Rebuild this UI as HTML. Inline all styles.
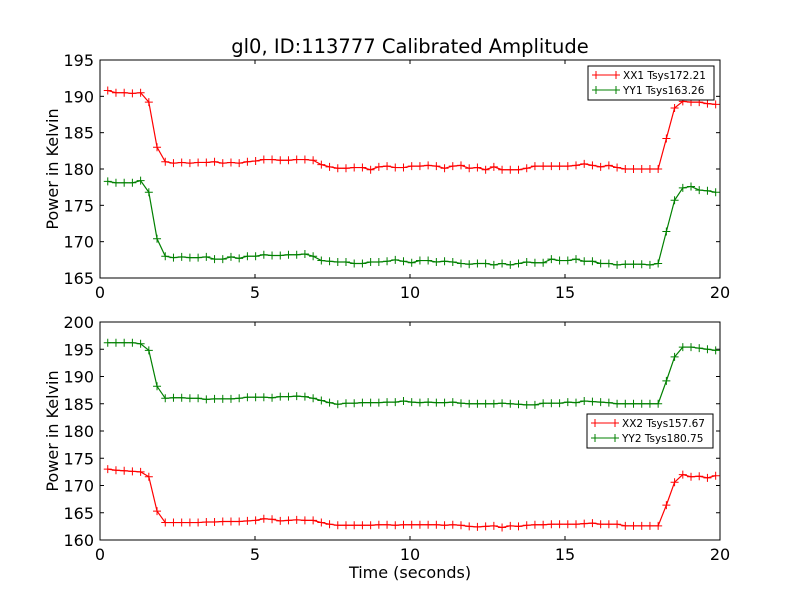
<!DOCTYPE html>
<html><head><meta charset="utf-8"><style>
body{margin:0;background:#fff}
svg{font-family:"DejaVu Sans","Liberation Sans",sans-serif}
</style></head><body>
<svg id="c" width="800" height="600" viewBox="0 0 800 600"></svg>
<script>
const xx1=[190.8,190.5,190.5,190.4,190.5,189.2,183.0,181.0,180.8,180.9,
180.8,180.9,180.9,181.0,180.8,180.9,180.8,181.0,181.1,181.3,
181.3,181.2,181.2,181.3,181.3,181.2,180.6,180.3,180.1,180.1,
180.2,180.2,179.9,180.3,180.4,180.2,180.2,180.4,180.4,180.5,
180.4,180.1,180.4,180.5,180.1,180.2,179.9,180.3,179.9,179.9,
179.9,180.1,180.4,180.4,180.4,180.4,180.4,180.5,180.7,180.5,
180.3,180.5,180.2,180.0,180.0,180.0,180.0,180.0,184.2,188.4,
189.3,189.2,189.2,189.0,188.9];
const yy1=[178.3,178.1,178.1,178.1,178.4,176.8,170.4,168.0,167.8,167.9,
167.8,167.8,167.9,167.6,167.6,167.9,167.7,168.0,168.0,168.2,
168.1,168.1,168.2,168.2,168.3,168.0,167.4,167.3,167.2,167.2,
167.0,167.0,167.2,167.2,167.3,167.5,167.3,167.1,167.4,167.4,
167.2,167.3,167.2,167.0,166.9,167.0,167.0,166.8,167.0,166.8,
167.0,167.2,167.1,167.1,167.6,167.4,167.4,167.6,167.3,167.3,
167.0,167.0,166.8,166.9,166.9,166.9,166.8,167.0,171.4,175.7,
177.4,177.6,177.1,177.0,176.8];
const xx2=[173.0,172.8,172.7,172.6,172.5,171.6,165.3,163.2,163.2,163.2,
163.2,163.2,163.3,163.3,163.4,163.4,163.4,163.5,163.6,163.9,
163.8,163.5,163.6,163.7,163.6,163.6,163.2,162.9,162.7,162.7,
162.7,162.7,162.7,162.8,162.8,162.7,162.8,162.8,162.8,162.8,
162.8,162.7,162.8,162.7,162.5,162.4,162.5,162.6,162.3,162.6,
162.5,162.7,162.8,162.8,162.9,162.9,162.9,162.9,163.0,163.1,
162.9,162.9,162.9,162.6,162.6,162.6,162.6,162.6,166.4,170.6,
172.0,171.6,171.7,171.4,171.8];
const yy2=[196.2,196.2,196.2,196.2,196.0,194.8,188.2,186.0,186.1,186.1,
186.0,186.0,185.8,185.9,185.9,185.9,186.0,186.2,186.2,186.2,
186.1,186.3,186.3,186.4,186.3,186.0,185.6,185.2,184.9,185.1,
185.1,185.2,185.2,185.2,185.3,185.3,185.5,185.3,185.2,185.3,
185.2,185.2,185.3,185.1,185.0,185.0,185.0,185.0,185.1,185.0,
184.9,184.8,184.8,185.1,185.1,185.1,185.3,185.2,185.5,185.4,
185.3,185.2,185.0,185.0,185.0,185.0,185.0,185.0,189.2,193.6,
195.4,195.4,195.2,195.0,194.8];
const xTicks=[0,5,10,15,20];
const topTicks=[165,170,175,180,185,190,195];
const botTicks=[160,165,170,175,180,185,190,195,200];
const t0=0.25, dt=0.265;
const svg=document.getElementById('c');
const NS='http://www.w3.org/2000/svg';
function mk(tag,attrs,parent){const e=document.createElementNS(NS,tag);for(const k in attrs)e.setAttribute(k,attrs[k]);(parent||svg).appendChild(e);return e;}
const X0=100,X1=720;
const xs=v=>X0+(v/20)*(X1-X0);
function panel(name,top,bot,ymin,ymax,ticks,series,leg){
  const ys=v=>bot-(v-ymin)/(ymax-ymin)*(bot-top);
  const g=mk('g',{});
  
  
  const frame=mk('rect',{x:X0,y:top,width:X1-X0,height:bot-top,fill:'#fff',stroke:'#000','stroke-width':1},g);
  
  
  xTicks.forEach(v=>{const x=xs(v);
    mk('line',{x1:x,x2:x,y1:bot,y2:bot-4,stroke:'#000'},g);
    mk('line',{x1:x,x2:x,y1:top,y2:top+4,stroke:'#000'},g);
    const t=mk('text',{x:x,y:bot+20,'text-anchor':'middle','font-size':16},g);t.textContent=v;
    
    });
  ticks.forEach(v=>{const y=ys(v);
    mk('line',{x1:X0,x2:X0+4,y1:y,y2:y,stroke:'#000'},g);
    mk('line',{x1:X1,x2:X1-4,y1:y,y2:y,stroke:'#000'},g);
    const t=mk('text',{x:X0-6,y:y+6,'text-anchor':'end','font-size':16},g);t.textContent=v;
    
    });
  const yl=mk('text',{x:58,y:(top+bot)/2,'text-anchor':'middle','font-size':16,transform:`rotate(-90 58 ${(top+bot)/2})`},g);
  yl.textContent='Power in Kelvin';
  
  
  series.forEach(s=>{
    const sg=mk('g',{},g);
    
    
    const pts=s.data.map((v,i)=>[xs(t0+i*dt),ys(v)]);
    mk('polyline',{points:pts.map(p=>p.join(',')).join(' '),fill:'none',stroke:s.c,'stroke-width':1.2},sg);
    pts.forEach(p=>{mk('path',{d:`M${p[0]-4},${p[1]}h8M${p[0]},${p[1]-4}v8`,stroke:s.c,'stroke-width':1},sg);});
  });
  const lg=mk('g',{},g);
  
  
  mk('rect',{x:leg.x,y:leg.y,width:126,height:34,fill:'#fff',stroke:'#000'},lg);
  series.forEach((s,i)=>{const y=leg.y+9+i*15;
    mk('line',{x1:leg.x+5,x2:leg.x+31,y1:y,y2:y,stroke:s.c},lg);
    mk('path',{d:`M${leg.x+8},${y}m-4,0h8M${leg.x+8},${y-4}v8M${leg.x+28},${y}m-4,0h8M${leg.x+28},${y-4}v8`,stroke:s.c},lg);
    const t=mk('text',{x:leg.x+35,y:y+4,'font-size':10.5},lg);t.textContent=s.label;
    
    });
}
panel('top-panel',60,278,165,195,topTicks,[{name:'xx1-series',data:xx1,c:'#ff0000',label:'XX1 Tsys172.21'},{name:'yy1-series',data:yy1,c:'#008000',label:'YY1 Tsys163.26'}],{x:588,y:66});
panel('bottom-panel',322,540,160,200,botTicks,[{name:'xx2-series',data:xx2,c:'#ff0000',label:'XX2 Tsys157.67'},{name:'yy2-series',data:yy2,c:'#008000',label:'YY2 Tsys180.75'}],{x:587,y:414});
const ti=mk('text',{x:410,y:53,'text-anchor':'middle','font-size':19.5});
ti.textContent='gl0, ID:113777 Calibrated Amplitude';


const xl=mk('text',{x:410,y:578,'text-anchor':'middle','font-size':16});
xl.textContent='Time (seconds)';


</script>
</body></html>
